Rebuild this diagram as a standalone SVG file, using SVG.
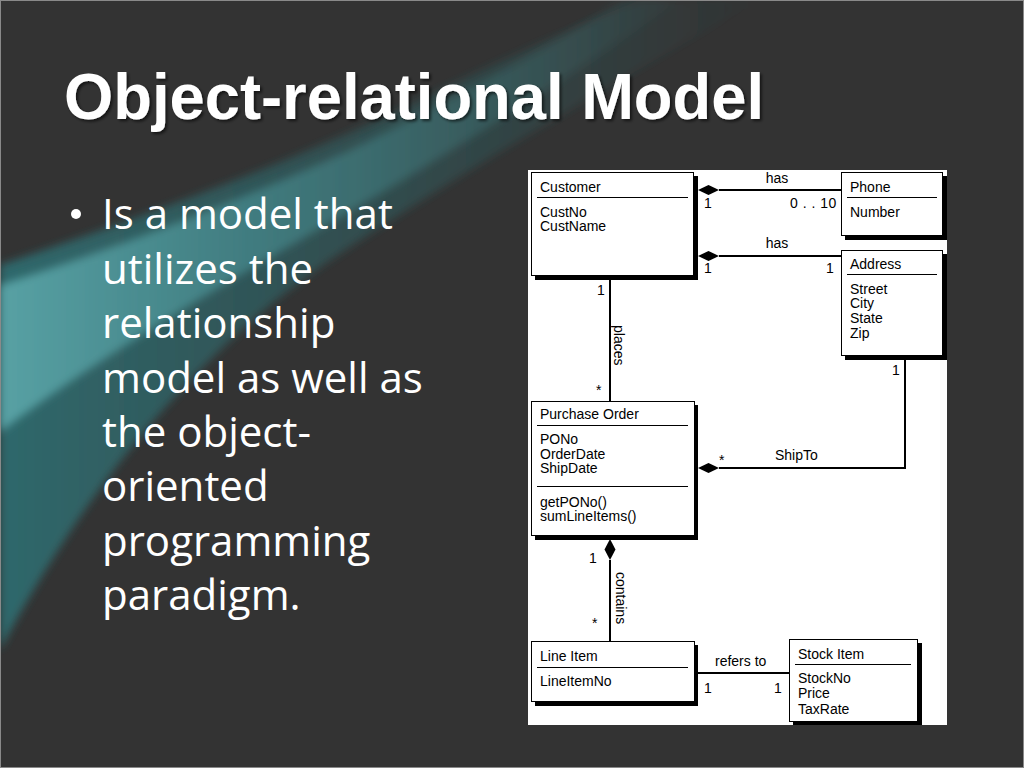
<svg xmlns="http://www.w3.org/2000/svg" width="1024" height="768" viewBox="0 0 1024 768">
<defs>
<linearGradient id="gDark" x1="0" y1="0" x2="760" y2="0" gradientUnits="userSpaceOnUse">
<stop offset="0" stop-color="#2f6e72" stop-opacity="0.9"/>
<stop offset="0.45" stop-color="#2f6a6d" stop-opacity="0.5"/>
<stop offset="1" stop-color="#2f6a6d" stop-opacity="0"/>
</linearGradient>
<linearGradient id="gBright" x1="0" y1="0" x2="700" y2="0" gradientUnits="userSpaceOnUse">
<stop offset="0" stop-color="#5aa4a7" stop-opacity="0.95"/>
<stop offset="0.35" stop-color="#4a9296" stop-opacity="0.65"/>
<stop offset="1" stop-color="#3f7f82" stop-opacity="0"/>
</linearGradient>
<filter id="blur4" x="-10%" y="-10%" width="120%" height="120%"><feGaussianBlur stdDeviation="4"/></filter>
<filter id="tshadow" x="-5%" y="-20%" width="110%" height="140%"><feDropShadow dx="2" dy="2" stdDeviation="1.5" flood-color="#000" flood-opacity="0.6"/></filter>
<style>
.title{font-family:"Liberation Sans",Arial,sans-serif;font-weight:bold;font-size:64px;fill:#fff}
.body{font-family:"Open Sans","Noto Sans",sans-serif;font-size:42px;fill:#fff}
.t{font-family:"Liberation Sans",Arial,sans-serif;font-size:14px;fill:#000}
.shadow{fill:#000}
.box{fill:#fff;stroke:#000;stroke-width:1}
.sep{stroke:#000;stroke-width:1}
.conn{stroke:#000;stroke-width:2;fill:none}
.dia{fill:#000}
.mid{text-anchor:middle}
</style>
</defs>
<rect x="0" y="0" width="1024" height="768" fill="#333333"/>
<g id="swoosh">
<path d="M0,265 C120,225 260,175 400,110 C500,60 580,25 640,0 L760,0 C620,80 480,160 330,260 C200,350 90,480 0,650 Z" fill="url(#gDark)" filter="url(#blur4)"/>
<path d="M0,285 C110,250 230,205 350,150 C450,100 540,55 620,0 L680,0 C580,70 470,140 370,200 C230,280 110,350 0,432 Z" fill="url(#gBright)" filter="url(#blur4)"/>
</g>
<rect x="0.5" y="0.5" width="1023" height="767" fill="none" stroke="#8a8a8a" stroke-width="1"/>
<text class="title" x="64" y="119" textLength="700" lengthAdjust="spacingAndGlyphs" filter="url(#tshadow)">Object-relational Model</text>
<g id="bullets">
<circle cx="76" cy="214" r="5" fill="#fff"/>
<text class="body" x="102" y="229">Is a model that</text>
<text class="body" x="102" y="283.5">utilizes the</text>
<text class="body" x="102" y="338">relationship</text>
<text class="body" x="102" y="392.5">model as well as</text>
<text class="body" x="102" y="447">the object-</text>
<text class="body" x="102" y="501">oriented</text>
<text class="body" x="102" y="555.5">programming</text>
<text class="body" x="102" y="610">paradigm.</text>
</g>
<rect id="panel" x="528" y="170" width="419" height="555" fill="#ffffff"/>
<g id="connectors">
<line class="conn" x1="719" y1="190" x2="841" y2="190"/>
<polygon class="dia" points="698,190 708.5,185 719,190 708.5,195"/>
<line class="conn" x1="719" y1="256" x2="841" y2="256"/>
<polygon class="dia" points="698,256 708.5,251 719,256 708.5,261"/>
<line class="conn" x1="610" y1="279" x2="610" y2="401"/>
<polyline class="conn" points="719,468 905,468 905,359"/>
<polygon class="dia" points="698,468 708.5,463 719,468 708.5,473"/>
<line class="conn" x1="610" y1="560" x2="610" y2="641"/>
<polygon class="dia" points="610,539 615.5,549.5 610,560 604.5,549.5"/>
<line class="conn" x1="698" y1="673" x2="789" y2="673"/>
<text class="t mid" x="777" y="183">has</text>
<text class="t" x="704" y="208">1</text>
<text class="t" x="790" y="208" letter-spacing="0.5">0 . . 10</text>
<text class="t mid" x="777" y="248">has</text>
<text class="t" x="704" y="273">1</text>
<text class="t" x="826" y="273">1</text>
<text class="t" x="597" y="295">1</text>
<text class="t" transform="translate(613.5,325) rotate(90)">places</text>
<text class="t" x="596" y="395">*</text>
<text class="t" x="892" y="375">1</text>
<text class="t" x="719" y="465">*</text>
<text class="t" x="775" y="460">ShipTo</text>
<text class="t" x="589" y="563">1</text>
<text class="t" transform="translate(616,572) rotate(90)">contains</text>
<text class="t" x="592" y="628">*</text>
<text class="t" x="715" y="666">refers to</text>
<text class="t" x="704" y="693">1</text>
<text class="t" x="774" y="693">1</text>
</g>
<g id="customer">
<rect class="shadow" x="535" y="176" width="163" height="104"/>
<rect class="box" x="531.5" y="172.5" width="162" height="103"/>
<text class="t" x="540" y="192">Customer</text>
<line class="sep" x1="537" y1="197.5" x2="688" y2="197.5"/>
<text class="t" x="540" y="217">CustNo</text>
<text class="t" x="540" y="231">CustName</text>
</g>
<g id="phone">
<rect class="shadow" x="845" y="176" width="102" height="64"/>
<rect class="box" x="841.5" y="172.5" width="101" height="63"/>
<text class="t" x="850" y="192">Phone</text>
<line class="sep" x1="847" y1="197.5" x2="937" y2="197.5"/>
<text class="t" x="850" y="217">Number</text>
</g>
<g id="address">
<rect class="shadow" x="845" y="254" width="102" height="106"/>
<rect class="box" x="841.5" y="250.5" width="101" height="105"/>
<text class="t" x="850" y="269">Address</text>
<line class="sep" x1="847" y1="274.5" x2="937" y2="274.5"/>
<text class="t" x="850" y="294">Street</text>
<text class="t" x="850" y="308">City</text>
<text class="t" x="850" y="323">State</text>
<text class="t" x="850" y="338">Zip</text>
</g>
<g id="purchase-order">
<rect class="shadow" x="535" y="405" width="163" height="135"/>
<rect class="box" x="531.5" y="401.5" width="163" height="134"/>
<text class="t" x="540" y="419">Purchase Order</text>
<line class="sep" x1="537" y1="425.5" x2="688" y2="425.5"/>
<text class="t" x="540" y="444">PONo</text>
<text class="t" x="540" y="459">OrderDate</text>
<text class="t" x="540" y="473">ShipDate</text>
<line class="sep" x1="537" y1="486.5" x2="688" y2="486.5"/>
<text class="t" x="540" y="507">getPONo()</text>
<text class="t" x="540" y="521">sumLineItems()</text>
</g>
<g id="line-item">
<rect class="shadow" x="535" y="645" width="163" height="61"/>
<rect class="box" x="531.5" y="641.5" width="163" height="60"/>
<text class="t" x="540" y="661">Line Item</text>
<line class="sep" x1="537" y1="667.5" x2="688" y2="667.5"/>
<text class="t" x="540" y="686">LineItemNo</text>
</g>
<g id="stock-item">
<rect class="shadow" x="793" y="643" width="129" height="82"/>
<rect class="box" x="789.5" y="639.5" width="128" height="82"/>
<text class="t" x="798" y="659">Stock Item</text>
<line class="sep" x1="795" y1="664.5" x2="911" y2="664.5"/>
<text class="t" x="798" y="683">StockNo</text>
<text class="t" x="798" y="698">Price</text>
<text class="t" x="798" y="714">TaxRate</text>
</g>
</svg>
